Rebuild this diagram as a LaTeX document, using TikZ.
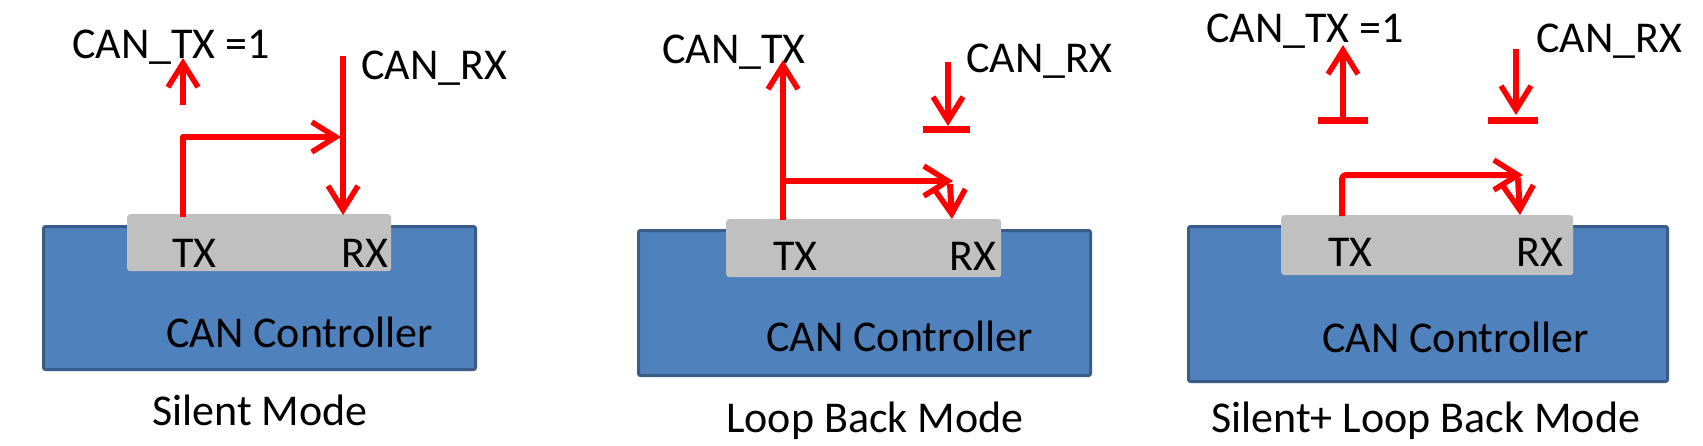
\documentclass[tikz,border=0pt]{standalone}
\usepackage{fontspec}
\setmainfont{Carlito}
\usetikzlibrary{arrows.meta}
\definecolor{ctlblue}{HTML}{4F81BD}
\definecolor{ctledge}{HTML}{3A5C89}
\definecolor{portgray}{HTML}{C0C0C0}
\definecolor{sigred}{HTML}{FF0000}
\begin{document}
\begin{tikzpicture}[x=1pt,y=-1pt,
  ctl/.style={draw=ctledge, fill=ctlblue, line width=3pt, rounded corners=2pt, anchor=north west, inner sep=0pt},
  port/.style={fill=portgray, rounded corners=3pt, anchor=north west, inner sep=0pt},
  lbl/.style={anchor=base west, inner sep=0pt, font=\fontsize{44}{50}\selectfont},
  sig/.style={draw=sigred, line width=6pt, line join=round},
  arr/.style={sig, -{Straight Barb[length=24pt,width=30pt,line width=5.5pt]}},
  barline/.style={draw=sigred, line width=7pt}]

\useasboundingbox[fill=white] (0,0) rectangle (1703,445);

% ---------- Panel 1: Silent Mode ----------
\node[ctl, minimum width=432pt, minimum height=143pt] (ctl1) at (42,225) {};
\node[port, minimum width=264pt, minimum height=57pt] (port1) at (127,214) {};
\node[lbl] (tx1) at (172,267) {TX};
\node[lbl] (rx1) at (341,267) {RX};
\node[lbl] (cc1) at (166,347) {CAN Controller};
\node[lbl] (m1) at (152,425) {Silent Mode};
\node[lbl] (ctx1) at (72,58) {CAN\_TX =1};
\node[lbl] (crx1) at (361,79) {CAN\_RX};
\coordinate (t1a) at (183,217);
\coordinate (t1b) at (183,137);
\coordinate (t1c) at (341,137);
\coordinate (u1a) at (183,105);
\coordinate (u1b) at (183,58);
\coordinate (r1a) at (343,56);
\coordinate (r1b) at (343,215);
\draw[arr] (t1a) -- (t1b) -- (t1c);
\draw[arr] (u1a) -- (u1b);
\draw[arr] (r1a) -- (r1b);

% ---------- Panel 2: Loop Back Mode ----------
\node[ctl, minimum width=452pt, minimum height=145pt] (ctl2) at (637,229) {};
\node[port, minimum width=275pt, minimum height=58pt] (port2) at (726,219) {};
\node[lbl] (tx2) at (773,270) {TX};
\node[lbl] (rx2) at (949,270) {RX};
\node[lbl] (cc2) at (766,351) {CAN Controller};
\node[lbl] (m2) at (726,432) {Loop Back Mode};
\node[lbl] (ctx2) at (662,63) {CAN\_TX};
\node[lbl] (crx2) at (966,72) {CAN\_RX};
\coordinate (t2a) at (783,220);
\coordinate (t2b) at (783,60);
\coordinate (j2) at (783,181);
\coordinate (h2) at (953,181);
\coordinate (d2a) at (950,184);
\coordinate (d2b) at (952,219);
\coordinate (r2a) at (948,62);
\coordinate (r2b) at (948,126);
\coordinate (b2a) at (923,129);
\coordinate (b2b) at (970,129);
\draw[arr] (t2a) -- (t2b);
\draw[arr] (j2) -- (h2);
\draw[arr] (d2a) -- (d2b);
\draw[arr] (r2a) -- (r2b);
\draw[barline] (b2a) -- (b2b);

% ---------- Panel 3: Silent + Loop Back Mode ----------
\node[ctl, minimum width=479pt, minimum height=155pt] (ctl3) at (1187,225) {};
\node[port, minimum width=292pt, minimum height=60pt] (port3) at (1281,215) {};
\node[lbl] (tx3) at (1328,266) {TX};
\node[lbl] (rx3) at (1516,266) {RX};
\node[lbl] (cc3) at (1322,352) {CAN Controller};
\node[lbl] (m3) at (1211,432) {Silent+ Loop Back Mode};
\node[lbl] (ctx3) at (1206,42) {CAN\_TX =1};
\node[lbl] (crx3) at (1536,52) {CAN\_RX};
\coordinate (u3a) at (1343,120);
\coordinate (u3b) at (1343,45);
\coordinate (b3a) at (1318,120);
\coordinate (b3b) at (1368,120);
\coordinate (r3a) at (1516,49);
\coordinate (r3b) at (1516,115);
\coordinate (b3c) at (1488,120);
\coordinate (b3d) at (1538,120);
\coordinate (t3a) at (1342,216);
\coordinate (t3b) at (1342,175);
\coordinate (t3c) at (1523,175);
\coordinate (d3a) at (1518,178);
\coordinate (d3b) at (1520,215);
\draw[arr] (u3a) -- (u3b);
\draw[barline] (b3a) -- (b3b);
\draw[arr] (r3a) -- (r3b);
\draw[barline] (b3c) -- (b3d);
\draw[arr, rounded corners=4pt] (t3a) -- (t3b) -- (t3c);
\draw[arr] (d3a) -- (d3b);
\end{tikzpicture}
\end{document}
